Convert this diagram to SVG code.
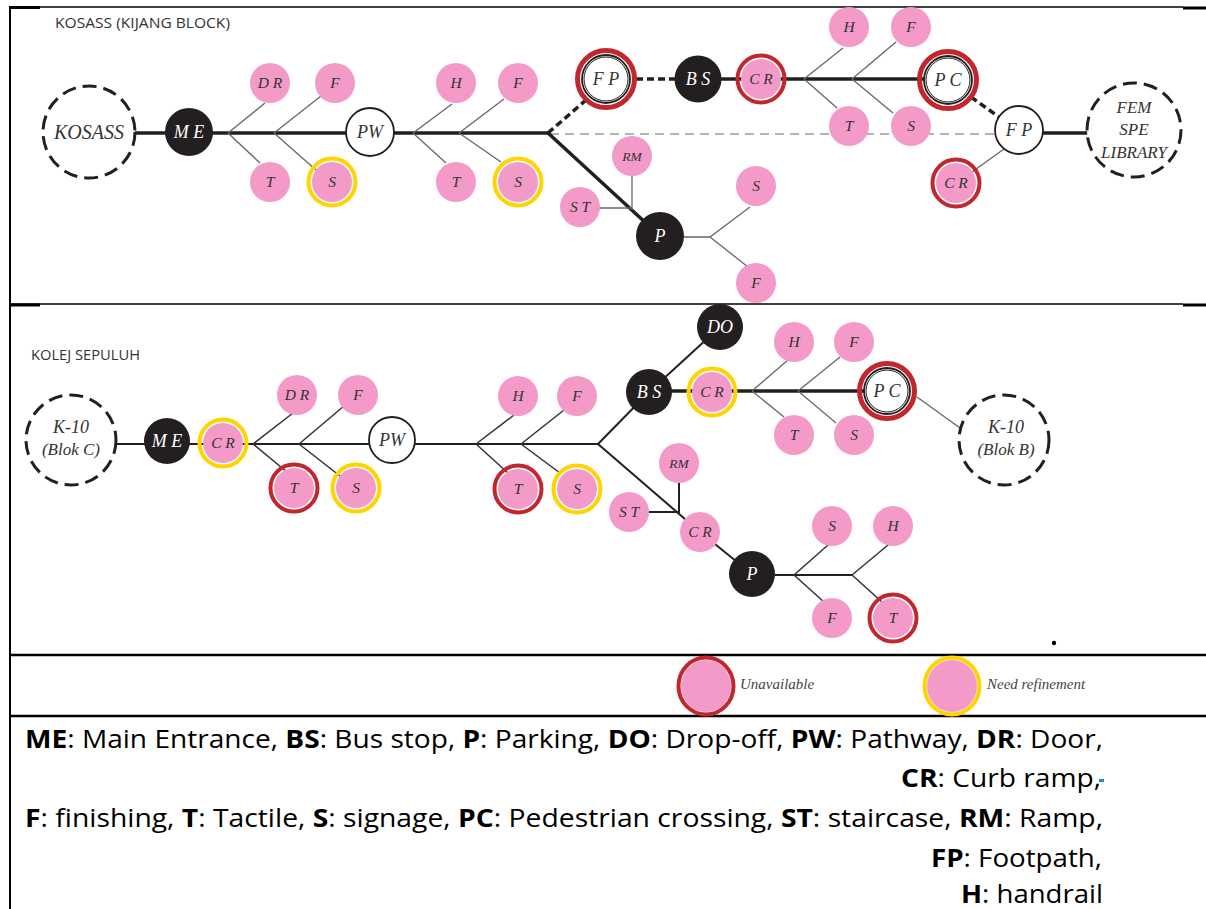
<svg xmlns="http://www.w3.org/2000/svg" width="1206" height="909" viewBox="0 0 1206 909">
<style>
.pk{fill:#F49AC8}
.blk{fill:#231F20}
.wht{fill:#fff;stroke:#231F20;stroke-width:1.8}
.in2{fill:none;stroke:#231F20;stroke-width:1}
.rR{fill:none;stroke:#C1272D;stroke-width:4}
.rRb{fill:none;stroke:#C1272D;stroke-width:5}
.rY{fill:none;stroke:#FFD400;stroke-width:4}
.site{fill:#fff;stroke:#231F20;stroke-width:3;stroke-dasharray:14 7}
.t{font-family:"Liberation Serif",serif;font-style:italic;text-anchor:middle;fill:#333}
.tp{font-size:15.5px}
.tw{fill:#fff;font-size:18px}
.ts{font-size:18px;fill:#333}
.main{stroke:#231F20;stroke-width:3.5;fill:none}
.m2{stroke:#231F20;stroke-width:2;fill:none}
.br{stroke:#666;stroke-width:1.3;fill:none}
.br2{stroke:#333;stroke-width:1.5;fill:none}
.dsh{stroke:#231F20;stroke-width:3.5;stroke-dasharray:7 4;fill:none}
.gd{stroke:#9a9a9a;stroke-width:1.5;stroke-dasharray:9 6;fill:none}
.frame{stroke:#000;fill:none}
.hd{font-family:"Open Sans","Liberation Sans",sans-serif;font-size:15px;fill:#333}
.lg{font-family:"Liberation Serif",serif;font-style:italic;font-size:15px;fill:#444}
.key{font-family:"Open Sans","Liberation Sans",sans-serif;font-size:25px;fill:#000}
.key tspan.b{font-weight:bold}
</style>

<g id="table">
<line class="frame" x1="10" y1="7" x2="1183" y2="7" stroke-width="1.6"/>
<line class="frame" x1="10" y1="7.5" x2="40" y2="7.5" stroke-width="3"/>
<line class="frame" x1="1183" y1="8" x2="1206" y2="8" stroke-width="3"/>
<line class="frame" x1="10" y1="304" x2="1183" y2="304" stroke-width="1.6"/>
<line class="frame" x1="10" y1="305" x2="40" y2="305" stroke-width="3"/>
<line class="frame" x1="1183" y1="305" x2="1206" y2="305" stroke-width="3"/>
<line class="frame" x1="10" y1="655" x2="1206" y2="655" stroke-width="2.5"/>
<line class="frame" x1="10" y1="716" x2="1206" y2="716" stroke-width="2.5"/>
<line class="frame" x1="10" y1="6" x2="10" y2="909" stroke-width="2"/>
<text class="hd" x="55" y="28" textLength="175" lengthAdjust="spacingAndGlyphs">KOSASS (KIJANG BLOCK)</text>
<text class="hd" x="31" y="360" textLength="109" lengthAdjust="spacingAndGlyphs">KOLEJ SEPULUH</text>
<circle cx="1054" cy="643" r="2.2" fill="#000"/>
</g>

<g id="connectors">
<line class="main" x1="134" y1="133" x2="548" y2="133" stroke-width="4"/>
<line class="br" x1="228" y1="133" x2="265" y2="103"/>
<line class="br" x1="228" y1="133" x2="260" y2="163"/>
<line class="br" x1="274" y1="133" x2="321" y2="96"/>
<line class="br" x1="274" y1="133" x2="316" y2="170"/>
<line class="br" x1="413" y1="133" x2="452" y2="104"/>
<line class="br" x1="413" y1="133" x2="446" y2="163"/>
<line class="br" x1="459" y1="133" x2="504" y2="99"/>
<line class="br" x1="459" y1="133" x2="501" y2="162"/>
<line class="dsh" x1="548" y1="133" x2="586" y2="100"/>
<line class="dsh" x1="636" y1="79" x2="676" y2="79"/>
<line class="main" x1="698" y1="79" x2="948" y2="79"/>
<line class="br" x1="804" y1="79" x2="843" y2="48"/>
<line class="br" x1="804" y1="79" x2="837" y2="108"/>
<line class="br" x1="852" y1="79" x2="896" y2="42"/>
<line class="br" x1="852" y1="79" x2="893" y2="113"/>
<line class="dsh" x1="971" y1="97" x2="999" y2="117"/>
<line class="gd" x1="550" y1="134" x2="996" y2="134"/>
<line class="main" x1="1040" y1="133" x2="1088" y2="133" stroke-width="4"/>
<line class="br" x1="1004" y1="149" x2="972" y2="172"/>
<line class="main" x1="548" y1="133" x2="660" y2="236" stroke-width="3"/>
<line class="br" x1="632" y1="176" x2="632" y2="210"/>
<line class="br" x1="599" y1="208" x2="632" y2="208"/>
<line class="br" x1="660" y1="237" x2="710" y2="237" stroke-width="1.6"/>
<line class="br" x1="710" y1="237" x2="750" y2="207"/>
<line class="br" x1="710" y1="237" x2="748" y2="267"/>
<line class="m2" x1="115" y1="444" x2="598" y2="444"/>
<line class="br2" x1="253" y1="444" x2="293" y2="413"/>
<line class="br2" x1="253" y1="444" x2="287" y2="472"/>
<line class="br2" x1="299" y1="444" x2="344" y2="406"/>
<line class="br2" x1="299" y1="444" x2="340" y2="476"/>
<line class="br2" x1="476" y1="444" x2="514" y2="415"/>
<line class="br2" x1="476" y1="444" x2="508" y2="473"/>
<line class="br2" x1="521" y1="444" x2="564" y2="410"/>
<line class="br2" x1="521" y1="444" x2="560" y2="473"/>
<line class="m2" x1="598" y1="444" x2="649" y2="392"/>
<line class="m2" x1="649" y1="392" x2="720" y2="327"/>
<line class="main" x1="649" y1="391" x2="887" y2="391"/>
<line class="br" x1="752" y1="391" x2="788" y2="360"/>
<line class="br" x1="752" y1="391" x2="784" y2="417"/>
<line class="br" x1="798" y1="391" x2="840" y2="357"/>
<line class="br" x1="798" y1="391" x2="836" y2="423"/>
<line class="br" x1="917" y1="397" x2="960" y2="428"/>
<line class="m2" x1="598" y1="444" x2="700" y2="532"/>
<line class="m2" x1="679" y1="482" x2="679" y2="513"/>
<line class="m2" x1="647" y1="512" x2="679" y2="512"/>
<line class="m2" x1="700" y1="532" x2="752" y2="574"/>
<line class="m2" x1="752" y1="575" x2="852" y2="575"/>
<line class="br2" x1="794" y1="575" x2="828" y2="545"/>
<line class="br2" x1="794" y1="575" x2="824" y2="602"/>
<line class="br2" x1="852" y1="575" x2="888" y2="545"/>
<line class="br2" x1="852" y1="575" x2="882" y2="602"/>
</g>

<g id="s1-kosass"><circle class="site" cx="89" cy="132" r="46"/><text class="t" x="89" y="139" font-size="20">KOSASS</text></g>
<g id="s1-me"><circle class="blk" cx="189" cy="132" r="24"/><text class="t tw" x="189" y="138">M E</text></g>
<g id="s1-dr"><circle class="pk" cx="270" cy="83" r="20"/><text class="t tp" x="270" y="88">D R</text></g>
<g id="s1-f1"><circle class="pk" cx="335" cy="83" r="20"/><text class="t tp" x="335" y="88">F</text></g>
<g id="s1-t1"><circle class="pk" cx="270" cy="182" r="20"/><text class="t tp" x="270" y="187">T</text></g>
<g id="s1-s1"><circle class="pk" cx="332" cy="182" r="20"/><circle class="rY" cx="332" cy="182" r="23.5"/><text class="t tp" x="332" y="187">S</text></g>
<g id="s1-pw"><circle class="wht" cx="370" cy="132" r="24"/><text class="t ts" x="370" y="138" font-size="20">PW</text></g>
<g id="s1-h1"><circle class="pk" cx="456" cy="83" r="20"/><text class="t tp" x="456" y="88">H</text></g>
<g id="s1-f2"><circle class="pk" cx="518" cy="83" r="20"/><text class="t tp" x="518" y="88">F</text></g>
<g id="s1-t2"><circle class="pk" cx="456" cy="182" r="20"/><text class="t tp" x="456" y="187">T</text></g>
<g id="s1-s2"><circle class="pk" cx="518" cy="182" r="20"/><circle class="rY" cx="518" cy="182" r="23.5"/><text class="t tp" x="518" y="187">S</text></g>
<g id="s1-fp1"><circle class="wht" cx="606" cy="79" r="24"/><circle class="in2" cx="606" cy="79" r="22"/><circle class="rRb" cx="606" cy="79" r="28.5"/><text class="t ts" x="606" y="85">F P</text></g>
<g id="s1-bs"><circle class="blk" cx="698" cy="79" r="23.5"/><text class="t tw" x="698" y="85">B S</text></g>
<g id="s1-cr1"><circle class="pk" cx="761" cy="79" r="20"/><circle class="rR" cx="761" cy="79" r="23.5"/><text class="t tp" x="761" y="84">C R</text></g>
<g id="s1-h2"><circle class="pk" cx="849" cy="27" r="20"/><text class="t tp" x="849" y="32">H</text></g>
<g id="s1-f3"><circle class="pk" cx="911" cy="27" r="20"/><text class="t tp" x="911" y="32">F</text></g>
<g id="s1-t3"><circle class="pk" cx="849" cy="126" r="20"/><text class="t tp" x="849" y="131">T</text></g>
<g id="s1-s3"><circle class="pk" cx="911" cy="126" r="20"/><text class="t tp" x="911" y="131">S</text></g>
<g id="s1-pc"><circle class="wht" cx="948" cy="80" r="24"/><circle class="in2" cx="948" cy="80" r="22"/><circle class="rRb" cx="948" cy="80" r="28.5"/><text class="t ts" x="948" y="86">P C</text></g>
<g id="s1-fp2"><circle class="wht" cx="1019" cy="130" r="24"/><text class="t ts" x="1019" y="136">F P</text></g>
<g id="s1-fem"><circle class="site" cx="1134" cy="130" r="47"/><text class="t" x="1134" y="113" font-size="17">FEM</text><text class="t" x="1134" y="135" font-size="17">SPE</text><text class="t" x="1134" y="158" font-size="17">LIBRARY</text></g>
<g id="s1-cr2"><circle class="pk" cx="956" cy="183" r="20"/><circle class="rR" cx="956" cy="183" r="23.5"/><text class="t tp" x="956" y="188">C R</text></g>
<g id="s1-rm"><circle class="pk" cx="632" cy="156" r="20"/><text class="t" x="632" y="161" font-size="13.5">RM</text></g>
<g id="s1-st"><circle class="pk" cx="580" cy="207" r="20"/><text class="t tp" x="580" y="212">S T</text></g>
<g id="s1-p"><circle class="blk" cx="660" cy="236" r="24"/><text class="t tw" x="660" y="242" font-size="19">P</text></g>
<g id="s1-s4"><circle class="pk" cx="756" cy="186" r="20"/><text class="t tp" x="756" y="191">S</text></g>
<g id="s1-f4"><circle class="pk" cx="756" cy="283" r="20"/><text class="t tp" x="756" y="288">F</text></g>

<g id="s2-k10c"><circle class="site" cx="71" cy="440" r="45"/><text class="t" x="71" y="433" font-size="18">K-10</text><text class="t" x="71" y="455" font-size="17">(Blok C)</text></g>
<g id="s2-me"><circle class="blk" cx="167" cy="441" r="23"/><text class="t tw" x="167" y="447" font-size="16" fill="#ddd">M E</text></g>
<g id="s2-cr1"><circle class="pk" cx="223" cy="443" r="20"/><circle class="rY" cx="223" cy="443" r="23.5"/><text class="t tp" x="223" y="448">C R</text></g>
<g id="s2-dr"><circle class="pk" cx="297" cy="395" r="20"/><text class="t tp" x="297" y="400">D R</text></g>
<g id="s2-f1"><circle class="pk" cx="358" cy="395" r="20"/><text class="t tp" x="358" y="400">F</text></g>
<g id="s2-t1"><circle class="pk" cx="294" cy="488" r="20"/><circle class="rR" cx="294" cy="488" r="23.5"/><text class="t tp" x="294" y="493">T</text></g>
<g id="s2-s1"><circle class="pk" cx="356" cy="488" r="20"/><circle class="rY" cx="356" cy="488" r="23.5"/><text class="t tp" x="356" y="493">S</text></g>
<g id="s2-pw"><circle class="wht" cx="392" cy="440" r="23"/><text class="t ts" x="392" y="446">PW</text></g>
<g id="s2-h1"><circle class="pk" cx="518" cy="396" r="20"/><text class="t tp" x="518" y="401">H</text></g>
<g id="s2-f2"><circle class="pk" cx="577" cy="396" r="20"/><text class="t tp" x="577" y="401">F</text></g>
<g id="s2-t2"><circle class="pk" cx="518" cy="489" r="20"/><circle class="rR" cx="518" cy="489" r="23.5"/><text class="t tp" x="518" y="494">T</text></g>
<g id="s2-s2"><circle class="pk" cx="577" cy="489" r="20"/><circle class="rY" cx="577" cy="489" r="23.5"/><text class="t tp" x="577" y="494">S</text></g>
<g id="s2-bs"><circle class="blk" cx="649" cy="392" r="23"/><text class="t tw" x="649" y="398">B S</text></g>
<g id="s2-do"><circle class="blk" cx="720" cy="327" r="23"/><text class="t tw" x="720" y="333">DO</text></g>
<g id="s2-cr2"><circle class="pk" cx="712" cy="392" r="20"/><circle class="rY" cx="712" cy="392" r="23.5"/><text class="t tp" x="712" y="397">C R</text></g>
<g id="s2-h2"><circle class="pk" cx="794" cy="342" r="20"/><text class="t tp" x="794" y="347">H</text></g>
<g id="s2-f3"><circle class="pk" cx="854" cy="342" r="20"/><text class="t tp" x="854" y="347">F</text></g>
<g id="s2-t3"><circle class="pk" cx="794" cy="435" r="20"/><text class="t tp" x="794" y="440">T</text></g>
<g id="s2-s3"><circle class="pk" cx="854" cy="435" r="20"/><text class="t tp" x="854" y="440">S</text></g>
<g id="s2-pc"><circle class="wht" cx="887" cy="391" r="23"/><circle class="in2" cx="887" cy="391" r="21"/><circle class="rRb" cx="887" cy="391" r="27.5"/><text class="t ts" x="887" y="397">P C</text></g>
<g id="s2-k10b"><circle class="site" cx="1004" cy="440" r="45"/><text class="t" x="1006" y="433" font-size="18">K-10</text><text class="t" x="1006" y="455" font-size="17">(Blok B)</text></g>
<g id="s2-rm"><circle class="pk" cx="679" cy="463" r="20"/><text class="t" x="679" y="468" font-size="13.5">RM</text></g>
<g id="s2-st"><circle class="pk" cx="629" cy="512" r="20"/><text class="t tp" x="629" y="517">S T</text></g>
<g id="s2-cr3"><circle class="pk" cx="700" cy="532" r="20"/><text class="t tp" x="700" y="537">C R</text></g>
<g id="s2-p"><circle class="blk" cx="752" cy="574" r="23"/><text class="t tw" x="752" y="580" font-size="19">P</text></g>
<g id="s2-s4"><circle class="pk" cx="832" cy="526" r="20"/><text class="t tp" x="832" y="531">S</text></g>
<g id="s2-h3"><circle class="pk" cx="893" cy="526" r="20"/><text class="t tp" x="893" y="531">H</text></g>
<g id="s2-f4"><circle class="pk" cx="832" cy="618" r="20"/><text class="t tp" x="832" y="623">F</text></g>
<g id="s2-t4"><circle class="pk" cx="893" cy="618" r="20"/><circle class="rR" cx="893" cy="618" r="23.5"/><text class="t tp" x="893" y="623">T</text></g>

<g id="legend-unavailable"><ellipse class="pk" cx="706" cy="686" rx="25" ry="26"/><ellipse class="rR" cx="706" cy="686" rx="27.5" ry="28.5"/><text class="lg" x="740" y="689">Unavailable</text></g>
<g id="legend-refine"><ellipse class="pk" cx="952" cy="686" rx="25" ry="26"/><ellipse class="rY" cx="952" cy="686" rx="27.5" ry="28.5"/><text class="lg" x="987" y="689">Need refinement</text></g>

<g id="key">
<text class="key" x="25" y="748" textLength="1078" lengthAdjust="spacingAndGlyphs"><tspan class="b">ME</tspan>: Main Entrance, <tspan class="b">BS</tspan>: Bus stop, <tspan class="b">P</tspan>: Parking, <tspan class="b">DO</tspan>: Drop-off, <tspan class="b">PW</tspan>: Pathway, <tspan class="b">DR</tspan>: Door,</text>
<text class="key" x="901" y="787" textLength="200" lengthAdjust="spacingAndGlyphs"><tspan class="b">CR</tspan>: Curb ramp,</text>
<rect x="1099" y="779" width="5" height="3" fill="#1E88E5"/>
<text class="key" x="25" y="827" textLength="1078" lengthAdjust="spacingAndGlyphs"><tspan class="b">F</tspan>: finishing, <tspan class="b">T</tspan>: Tactile, <tspan class="b">S</tspan>: signage, <tspan class="b">PC</tspan>: Pedestrian crossing, <tspan class="b">ST</tspan>: staircase, <tspan class="b">RM</tspan>: Ramp,</text>
<text class="key" x="931" y="867" textLength="171" lengthAdjust="spacingAndGlyphs"><tspan class="b">FP</tspan>: Footpath,</text>
<text class="key" x="961" y="903" textLength="142" lengthAdjust="spacingAndGlyphs"><tspan class="b">H</tspan>: handrail</text>
</g>
</svg>
